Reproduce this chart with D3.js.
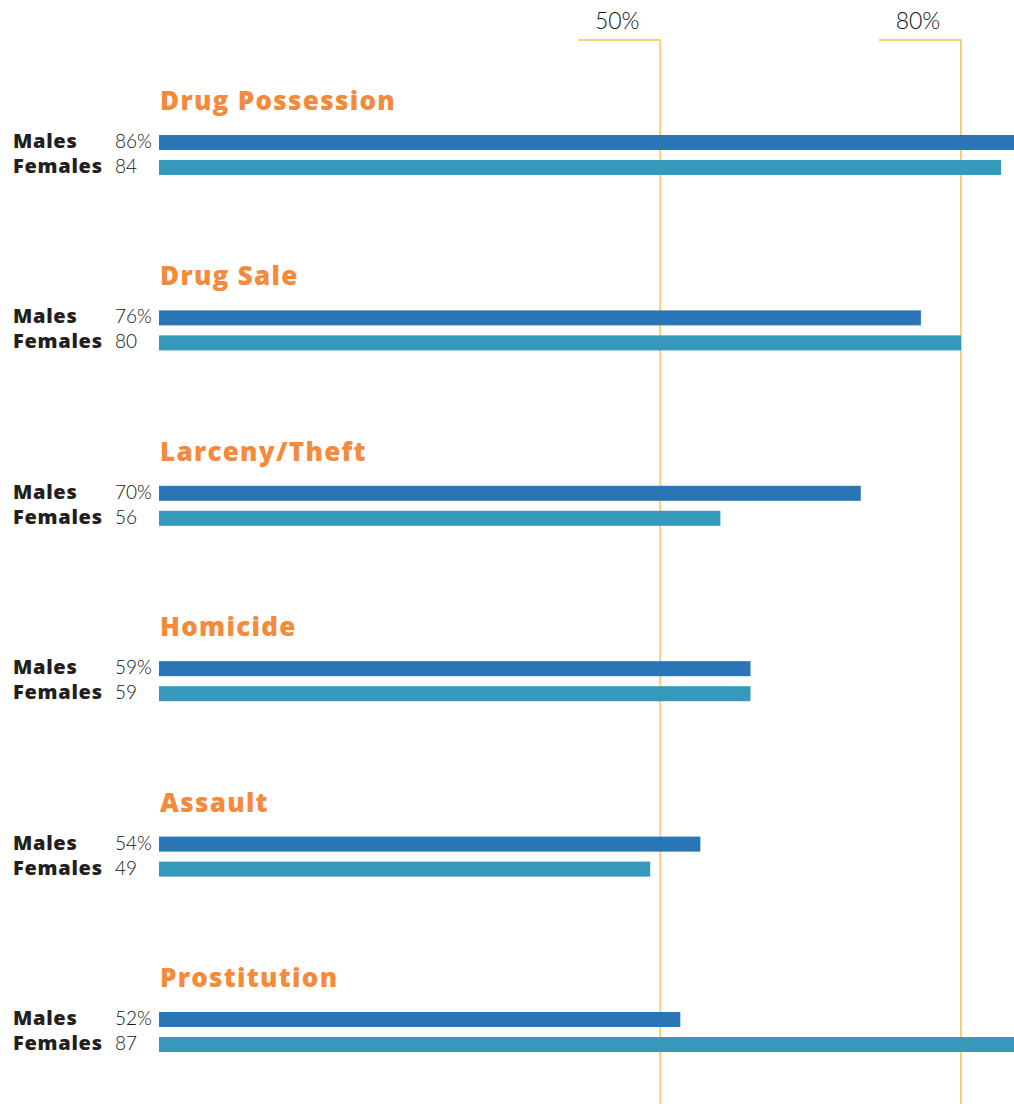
<!DOCTYPE html>
<html>
<head>
<meta charset="utf-8">
<script src="https://cdn.jsdelivr.net/npm/d3@7"></script>
<style>
  html, body { margin: 0; padding: 0; background: #ffffff; }
  svg { display: block; }
  .cat { font-family: "Open Sans", Lato, sans-serif; font-weight: 800; fill: #f58a3a; letter-spacing: 1.3px; }
  .sex { font-family: "Open Sans", Lato, sans-serif; font-weight: 800; fill: #231f20; letter-spacing: 0.7px; }
  .val { font-family: Lato, "Open Sans", sans-serif; font-weight: 300; fill: #111111; }
  .tick { font-family: Lato, "Open Sans", sans-serif; font-weight: 300; fill: #111111; }
</style>
</head>
<body>
<script>
// Share of arrestees testing positive, by charge and sex (percent)
const categories = ["Drug Possession", "Drug Sale", "Larceny/Theft", "Homicide", "Assault", "Prostitution"];
const males   = [86, 76, 70, 59, 54, 52];
const females = [84, 80, 56, 59, 49, 87];
const refTicks = [50, 80];

const W = 1014, H = 1104;
const svg = d3.select("body").append("svg").attr("width", W).attr("height", H);

const x = d3.scaleLinear().domain([0, 80]).range([159, 961]);
const y = d3.scaleBand().domain(categories).range([135, 135 + 175.4 * 6]).paddingInner(0).paddingOuter(0);

const barH = 15, femOffset = 25;
const maleColor = "#2975b6", femaleColor = "#3699bb", gridColor = "#f6cf7a";

// Reference lines with bracket caps and labels
const grid = svg.append("g");
refTicks.forEach(t => {
  const gx = x(t);
  grid.append("path")
    .attr("d", `M${gx - 82},40 H${gx} V${H}`)
    .attr("fill", "none").attr("stroke", gridColor).attr("stroke-width", 2);
  grid.append("text").attr("class", "tick")
    .attr("x", gx - 43).attr("y", 29)
    .attr("text-anchor", "middle").attr("font-size", 23)
    .text(t + "%");
});

const g = svg.selectAll("g.cat-group").data(categories).join("g")
  .attr("class", "cat-group")
  .attr("transform", d => `translate(0,${y(d)})`);

g.append("text").attr("class", "cat")
  .attr("x", 160).attr("y", -25)
  .attr("font-size", 26)
  .text(d => d);

// Male bars
g.append("rect")
  .attr("x", x(0)).attr("y", 0)
  .attr("width", (d, i) => x(males[i]) - x(0))
  .attr("height", barH).attr("fill", maleColor);

// Female bars
g.append("rect")
  .attr("x", x(0)).attr("y", femOffset)
  .attr("width", (d, i) => x(females[i]) - x(0))
  .attr("height", barH).attr("fill", femaleColor);

g.append("text").attr("class", "sex")
  .attr("x", 13).attr("y", 13).attr("font-size", 20).text("Males");
g.append("text").attr("class", "sex")
  .attr("x", 13).attr("y", femOffset + 13).attr("font-size", 20).text("Females");

g.append("text").attr("class", "val")
  .attr("x", 115).attr("y", 13).attr("font-size", 19)
  .text((d, i) => males[i] + "%");
g.append("text").attr("class", "val")
  .attr("x", 115).attr("y", femOffset + 13).attr("font-size", 19)
  .text((d, i) => females[i]);
</script>
</body>
</html>
